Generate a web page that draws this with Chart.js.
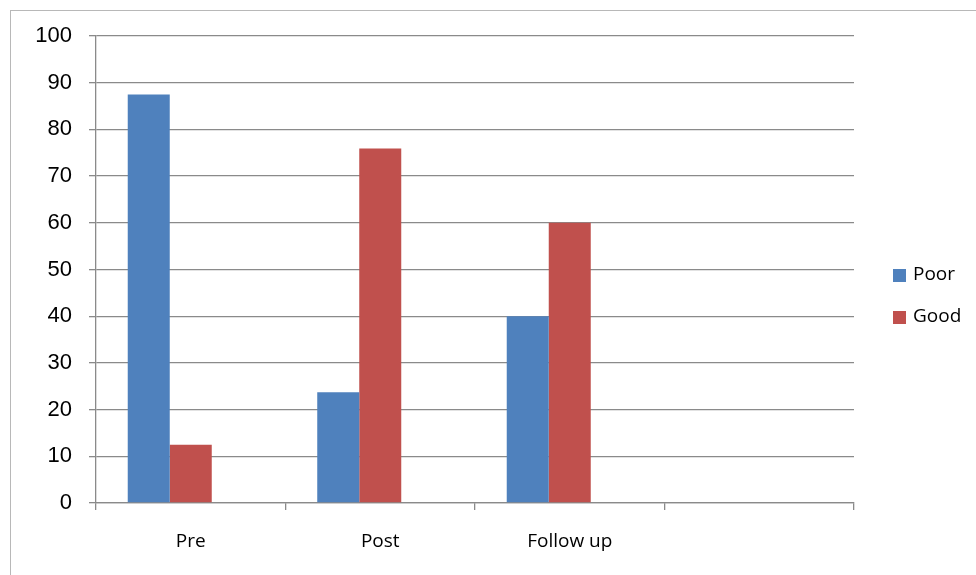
<!DOCTYPE html>
<html>
<head>
<meta charset="utf-8">
<script src="https://cdn.jsdelivr.net/npm/chart.js@4/dist/chart.umd.min.js"></script>
<style>
  body { margin: 0; background: #fff; }
  #wrap { position: relative; width: 976px; height: 575px; overflow: hidden; }
  #frame { position: absolute; left: 10px; top: 10px; width: 1000px; height: 600px; border: 1.5px solid #b8b8b8; }
  canvas { position: absolute; left: 0; top: 0; }
</style>
</head>
<body>
<div id="wrap">
  <div id="frame"></div>
  <canvas id="chart_results" width="976" height="575"></canvas>
</div>
<script>
var categories = ['Pre', 'Post', 'Follow up', ''];
var poor_values = [87.5, 23.7, 40, null];
var good_values = [12.5, 75.9, 60, null];
// third series is empty in the source, it only takes up room in each group
var empty_values = [null, null, null, null];
var y_ticks = [0, 10, 20, 30, 40, 50, 60, 70, 80, 90, 100];

var grid_color = '#8a8a8a';

var side_legend = {
  id: 'side_legend',
  afterDraw: function (chart) {
    var ctx = chart.ctx;
    var area = chart.chartArea;
    var items = chart.data.datasets.filter(function (ds) { return ds.label; });
    ctx.save();
    ctx.font = '19px "Open Sans"';
    ctx.textBaseline = 'middle';
    ctx.textAlign = 'left';
    items.forEach(function (ds, i) {
      var y = 275 + i * 42;
      ctx.fillStyle = ds.backgroundColor;
      ctx.fillRect(area.right + 39, y - 6, 13, 13);
      ctx.fillStyle = '#000';
      ctx.fillText(ds.label, area.right + 59, y);
    });
    ctx.restore();
  }
};

var chart_results = document.getElementById('chart_results').getContext('2d');

var mychart = new Chart(chart_results, {
  type: 'bar',
  data: {
    labels: categories,
    datasets: [{
      label: 'Poor',
      data: poor_values,
      backgroundColor: '#4F81BD'
    }, {
      label: 'Good',
      data: good_values,
      backgroundColor: '#C0504D'
    }, {
      label: '',
      data: empty_values,
      backgroundColor: 'rgba(0,0,0,0)'
    }]
  },
  options: {
    responsive: false,
    animation: false,
    layout: {
      padding: { left: 0, top: 36, right: 122, bottom: 0 }
    },
    datasets: {
      bar: { categoryPercentage: 0.665, barPercentage: 1.0 }
    },
    plugins: {
      legend: { display: false },
      tooltip: { enabled: false }
    },
    scales: {
      x: {
        grid: {
          offset: true,
          drawOnChartArea: false,
          color: grid_color,
          tickLength: 7,
          lineWidth: 1.3
        },
        border: { color: grid_color, width: 1.3 },
        ticks: {
          color: '#000',
          padding: 20,
          font: { family: '"Open Sans"', size: 19 }
        },
        afterFit: function (scale) { scale.height = 72; }
      },
      y: {
        min: 0,
        max: 100,
        afterBuildTicks: function (scale) {
          scale.ticks = y_ticks.map(function (v) { return { value: v }; });
        },
        grid: {
          color: grid_color,
          tickLength: 7,
          lineWidth: 1.3
        },
        border: { color: grid_color, width: 1.3 },
        ticks: {
          color: '#000',
          padding: 17,
          font: { family: '"Liberation Sans"', size: 22 }
        },
        afterFit: function (scale) { scale.width = 96; }
      }
    }
  },
  plugins: [side_legend]
});
</script>
</body>
</html>
